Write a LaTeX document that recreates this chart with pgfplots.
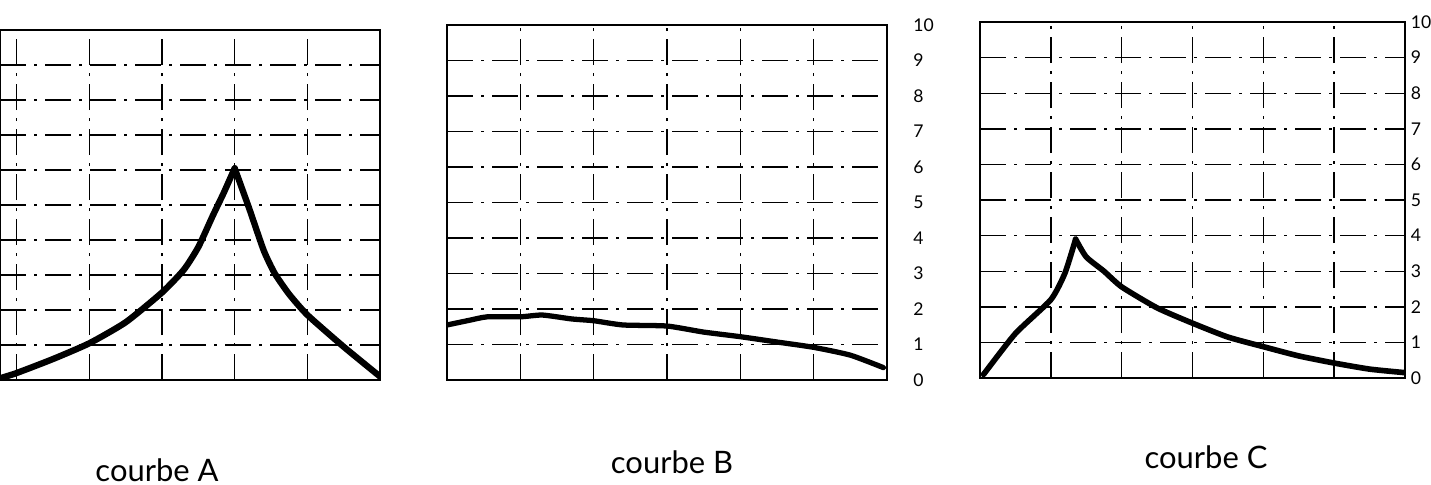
\documentclass[border=0pt]{standalone}
\usepackage{fontspec}
\setmainfont{Lato}
\usepackage{pgfplots}
\pgfplotsset{compat=1.18}

\pgfplotsset{
  scan/.style={
    scale only axis, anchor=south west,
    axis line style={black, line width=0.5pt},
    grid=major,
    major grid style={black, line width=0.4pt,
      dash pattern=on 2.6mm off 0.8mm on 0.3mm off 0.8mm},
    major tick length=0pt,
    ymin=0, ymax=10, ytick={0,...,10},
    xtick={0,...,6},
    xticklabels={},
    /pgf/number format/assume math mode=true,
    tick label style={font=\fontsize{5}{6}\selectfont},
    clip=true,
  },
  curve/.style={black, line width=1.8pt, line join=round, line cap=round,
    smooth, tension=0.35},
}

\begin{document}
\begin{tikzpicture}
\useasboundingbox (0,0) rectangle (14.31cm,4.84cm);

% courbe A
\begin{axis}[scan, at={(0cm,1.04cm)}, width=3.80cm, height=3.50cm,
    xmin=-0.23, xmax=5, yticklabels={}]
  \addplot[curve] coordinates {
    (-0.23,0.05)(0,0.2)(0.5,0.6)(1.0,1.05)(1.5,1.65)(2.0,2.5)(2.3,3.15)
    (2.5,3.8)(2.7,4.7)(2.85,5.35)(3.0,6.05)
  };
  \addplot[curve] coordinates {
    (3.0,6.05)(3.2,4.9)(3.4,3.7)(3.55,3.05)
    (3.75,2.45)(4.0,1.86)(4.5,0.95)(5.0,0.1)
  };
\end{axis}

% courbe B
\begin{axis}[scan, at={(4.47cm,1.04cm)}, width=4.40cm, height=3.55cm,
    xmin=0, xmax=6, yticklabel pos=right,
    yticklabel style={xshift=4pt}]
  \addplot[curve, line width=1.5pt] coordinates {
    (0,1.55)(0.3,1.68)(0.55,1.78)(1.0,1.78)(1.3,1.83)(1.7,1.72)(2.0,1.67)
    (2.4,1.55)(3.0,1.52)(3.5,1.35)(4.0,1.22)(4.5,1.07)(5.0,0.92)
    (5.5,0.7)(5.95,0.35)
  };
\end{axis}

% courbe C
\begin{axis}[scan, at={(9.80cm,1.06cm)}, width=4.25cm, height=3.56cm,
    xmin=0, xmax=6, yticklabel pos=right,
    yticklabel style={inner sep=0.5pt, xshift=1pt}]
  \addplot[curve, line width=1.6pt] coordinates {
    (0.05,0.1)(0.5,1.25)(1.0,2.2)(1.2,2.95)(1.35,3.9)
  };
  \addplot[curve, line width=1.6pt] coordinates {
    (1.35,3.9)(1.5,3.4)(1.75,3.0)
    (2.0,2.56)(2.5,1.97)(3.0,1.54)(3.5,1.15)(4.0,0.88)(4.5,0.62)
    (5.0,0.42)(5.5,0.25)(6.0,0.15)
  };
\end{axis}

\node[font=\fontsize{8.8}{10}\selectfont] at (1.57cm,0.14cm) {courbe A};
\node[font=\fontsize{8.8}{10}\selectfont] at (6.72cm,0.22cm) {courbe B};
\node[font=\fontsize{8.8}{10}\selectfont] at (12.06cm,0.27cm) {courbe C};
\end{tikzpicture}
\end{document}
